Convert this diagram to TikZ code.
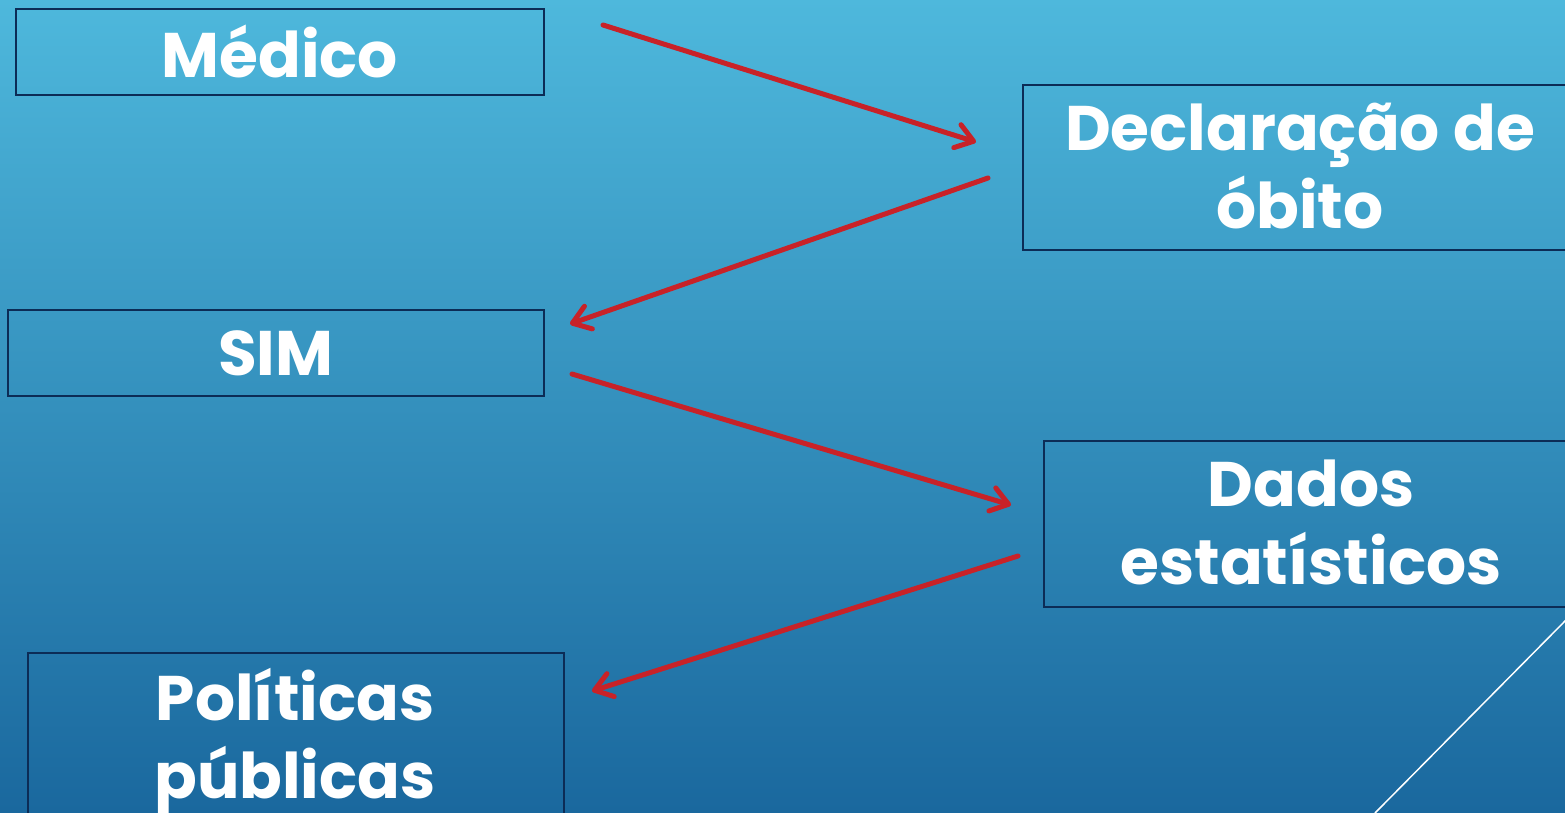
\documentclass[tikz,border=0pt]{standalone}
\usepackage{fontspec}
\setmainfont{Poppins}[BoldFont={* Bold}]
\usetikzlibrary{arrows.meta}
\definecolor{bgtop}{RGB}{78,184,220}
\definecolor{bgbot}{RGB}{26,104,158}
\definecolor{boxline}{RGB}{12,44,86}
\definecolor{arrowred}{RGB}{200,34,40}
\tikzset{
  box/.style={draw=boxline, line width=1.6pt, inner sep=0pt, anchor=north west, text=white,
    font=\fontsize{63}{78}\selectfont\bfseries, align=center},
  boxtext/.style={text=white, font=\fontsize{63}{78}\selectfont\bfseries, align=center},
  flow/.style={draw=arrowred, line width=5pt, line cap=round,
    -{Straight Barb[length=17pt,width=24pt,line cap=round,line join=round]}},
}
\begin{document}
\begin{tikzpicture}[x=1pt,y=-1pt]
\useasboundingbox (0,0) rectangle (1565,812);
\clip (0,0) rectangle (1565,812);
\shade[top color=bgtop, bottom color=bgbot] (0,0) rectangle (1565,812);
\node[box, minimum width=528pt, minimum height=86pt] (medico) at (15,8) {Médico};
\node[box, minimum width=560pt, minimum height=165pt] (declaracao) at (1022,84) {};
\node[boxtext] (declt) at (1300,166) {Declaração de\\óbito};
\node[box, minimum width=536pt, minimum height=86pt] (sim) at (7,309) {SIM};
\node[box, minimum width=540pt, minimum height=166pt] (dados) at (1043,440) {};
\node[boxtext] (dadost) at (1311,522) {Dados\\estatísticos};
\node[box, minimum width=536pt, minimum height=180pt] (politicas) at (27,652) {};
\node[boxtext] (polt) at (295,742) {Políticas\\públicas};
\coordinate (a1s) at (603,25);   \coordinate (a1e) at (976,142);
\coordinate (a2s) at (988,178);  \coordinate (a2e) at (570,324);
\coordinate (a3s) at (572,374);  \coordinate (a3e) at (1011,505);
\coordinate (a4s) at (1018,556); \coordinate (a4e) at (592,691);
\draw[flow] (a1s) -- (a1e);
\draw[flow] (a2s) -- (a2e);
\draw[flow] (a3s) -- (a3e);
\draw[flow] (a4s) -- (a4e);
\coordinate (d1) at (1566,620); \coordinate (d2) at (1375,813);
\draw[white, line width=1.5pt] (d1) -- (d2);
\end{tikzpicture}
\end{document}
